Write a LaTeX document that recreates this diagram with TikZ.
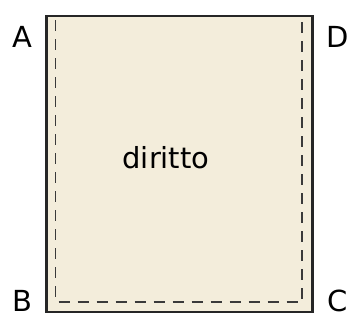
\documentclass[tikz,border=0pt]{standalone}
\usepackage{fontspec}
\setmainfont{DejaVu Sans}
\definecolor{cloth}{HTML}{F3EDDB}
\definecolor{seam}{HTML}{3A3A3A}
\begin{document}
\begin{tikzpicture}[x=1pt,y=-1pt]
    \useasboundingbox (0,0) rectangle (350,322);
    \draw[line width=2.2pt, color=black!85, fill=cloth] (46.5,16) rectangle (312.5,312); % panel
    \draw[line width=1.4pt, color=seam, dash pattern=on 11pt off 8pt] (55.5,20) -- (55.5,302) -- (302,302) -- (302,20); % seam
    \node[font=\fontsize{29}{34}\selectfont] (A) at (22,37) {A}; % corner A
    \node[font=\fontsize{29}{34}\selectfont] (D) at (338,37) {D}; % corner D
    \node[font=\fontsize{29}{34}\selectfont] (B) at (22,301) {B}; % corner B
    \node[font=\fontsize{29}{34}\selectfont] (C) at (338,301) {C}; % corner C
    \node[font=\fontsize{29}{34}\selectfont] (side) at (166,158) {diritto}; % side label
  \end{tikzpicture}
\end{document}
